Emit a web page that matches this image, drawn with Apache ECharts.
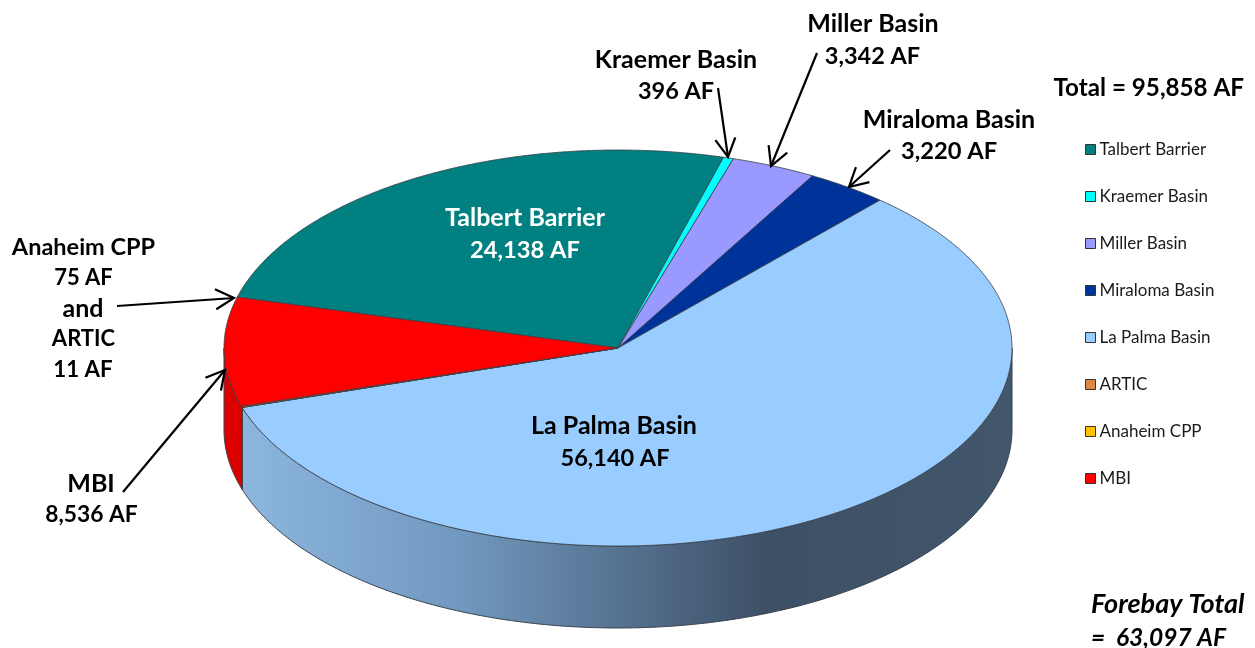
<!DOCTYPE html>
<html>
<head>
<meta charset="utf-8">
<style>html,body{margin:0;padding:0;background:#fff}#c{width:1255px;height:648px}</style>
<script src="https://cdn.jsdelivr.net/npm/echarts@6/dist/echarts.min.js"></script>
</head>
<body>
<div id="c"></div>
<script>
// Data
var categories = ['Talbert Barrier','Kraemer Basin','Miller Basin','Miraloma Basin','La Palma Basin','ARTIC','Anaheim CPP','MBI'];
var valuesAF   = [24138,396,3342,3220,56140,11,75,8536];
var colors     = ['#008080','#00ffff','#9999ff','#003399','#99ccff','#dd8844','#ffc000','#ff0000'];
var wallColors = ['#006666','#00cccc','#7a7acc','#002266','#88b0d8','#b06a33','#cc9900','#dc0000'];
var totalAF = 95858, forebayTotalAF = 63097;

var fmt = function (v) { return v.toLocaleString('en-US'); };
var sum = valuesAF.reduce(function (a, b) { return a + b; }, 0);

// 3-D pie projection
var CX = 618, CY = 348, RX = 394, RY = 198, DEPTH = 82, START_DEG = 165.1;
function pt(deg, dy) {
  var a = deg * Math.PI / 180;
  return [CX + RX * Math.cos(a), CY - RY * Math.sin(a) + (dy || 0)];
}
function arc(from, to, dy) {            // clockwise: from > to
  var out = [], n = Math.max(1, Math.ceil((from - to) / 0.5));
  for (var i = 0; i <= n; i++) out.push(pt(from + (to - from) * i / n, dy));
  return out;
}
var wallGradient = new echarts.graphic.LinearGradient(242, 0, 1012, 0, [
  {offset: 0, color: '#8cb6de'}, {offset: 0.28, color: '#7299c0'},
  {offset: 0.49, color: '#567291'}, {offset: 0.68, color: '#3d5066'},
  {offset: 1, color: '#42566c'}], true);

var cumulative = [];
valuesAF.reduce(function (acc, v, i) { cumulative[i] = acc; return acc + v; }, 0);

var series = categories.map(function (name, idx) {
  return {
    type: 'custom', name: name, coordinateSystem: 'none', silent: true,
    itemStyle: {color: colors[idx]},
    data: [[valuesAF[idx]]],
    renderItem: function (params, api) {
      var from = START_DEG - cumulative[idx] / sum * 360;
      var to = from - api.value(0) / sum * 360;
      var children = [];
      // front wall: only the part of the rim on the lower half of the ellipse
      if (from > -180 && to < 0) {
        var a = Math.min(from, 0), b = Math.max(to, -180);
        children.push({
          type: 'polygon', shape: {points: arc(a, b, 0).concat(arc(a, b, DEPTH).reverse())},
          style: {fill: idx === 4 ? wallGradient : wallColors[idx], stroke: '#39424d', lineWidth: 1}
        });
      }
      children.push({
        type: 'polygon', shape: {points: [[CX, CY]].concat(arc(from, to, 0))},
        style: {fill: colors[idx], stroke: '#3a3f46', lineWidth: 0.8, lineJoin: 'round'}
      });
      return {type: 'group', children: children};
    }
  };
});

var FONT = 'Lato';
function label(text, x, y, size, opt) {
  opt = opt || {};
  return {
    type: 'text', z: 50, silent: true,
    style: {
      text: text, x: x, y: y, fill: opt.fill || '#000',
      font: (opt.italic ? 'italic ' : '') + '700 ' + size + 'px ' + FONT,
      align: opt.align || 'center', verticalAlign: 'middle'
    }
  };
}
function arrow(x1, y1, x2, y2) {
  var a = Math.atan2(y2 - y1, x2 - x1), L = 21, w = 0.5;
  var b1 = [x2 - L * Math.cos(a - w), y2 - L * Math.sin(a - w)];
  var b2 = [x2 - L * Math.cos(a + w), y2 - L * Math.sin(a + w)];
  return [
    {type: 'polyline', z: 40, silent: true, shape: {points: [[x1, y1], [x2, y2]]}, style: {stroke: '#000', lineWidth: 2.2, fill: null}},
    {type: 'polyline', z: 40, silent: true, shape: {points: [b1, [x2, y2], b2]}, style: {stroke: '#000', lineWidth: 2.2, fill: null}}
  ];
}
function af(i) { return fmt(valuesAF[i]) + ' AF'; }

var graphics = [
  label(categories[0], 525, 218, 25, {fill: '#fff'}),
  label(af(0), 525, 250, 23.7, {fill: '#fff'}),
  label(categories[4], 614, 426, 25),
  label(af(4), 615, 458, 23.5),
  label(categories[1], 676, 60, 25),
  label(af(1), 676, 91, 23.5),
  label(categories[2], 873, 24, 25),
  label(af(2), 872.5, 56, 23.5),
  label(categories[3], 949, 120, 25),
  label(af(3), 949, 151, 23.7),
  label(categories[6], 83.5, 247, 23.5),
  label(af(6), 83.5, 278, 22),
  label('and', 83, 309, 25),
  label(categories[5], 83.5, 339, 22),
  label(af(5), 83, 370, 22.3),
  label(categories[7], 91, 484, 25),
  label(af(7), 91.5, 515, 22.8),
  label('Total = ' + fmt(totalAF) + ' AF', 1244, 88, 24.2, {align: 'right'}),
  label('Forebay Total', 1091, 604.5, 27, {align: 'left', italic: true}),
  label('=  ' + fmt(forebayTotalAF) + ' AF', 1091, 638.5, 24.5, {align: 'left', italic: true})
].concat(
  arrow(718, 88, 728, 157),
  arrow(817, 53, 771, 166),
  arrow(890, 150, 849, 187),
  arrow(117, 306, 234, 298),
  arrow(123, 492, 225, 370)
);

var chart = echarts.init(document.getElementById('c'));
chart.setOption({
  backgroundColor: '#fff',
  animation: false,
  legend: {
    orient: 'vertical', left: 1085, top: 141,
    itemWidth: 10, itemHeight: 10, itemGap: 30, padding: 0,
    icon: 'rect',
    selectedMode: false,
    itemStyle: {borderColor: '#333', borderWidth: 1},
    textStyle: {fontFamily: FONT, fontSize: 17, color: '#1a1a1a', padding: [0, 0, 0, -1]},
    data: categories
  },
  series: series,
  graphic: {elements: graphics}
});
</script>
</body>
</html>
